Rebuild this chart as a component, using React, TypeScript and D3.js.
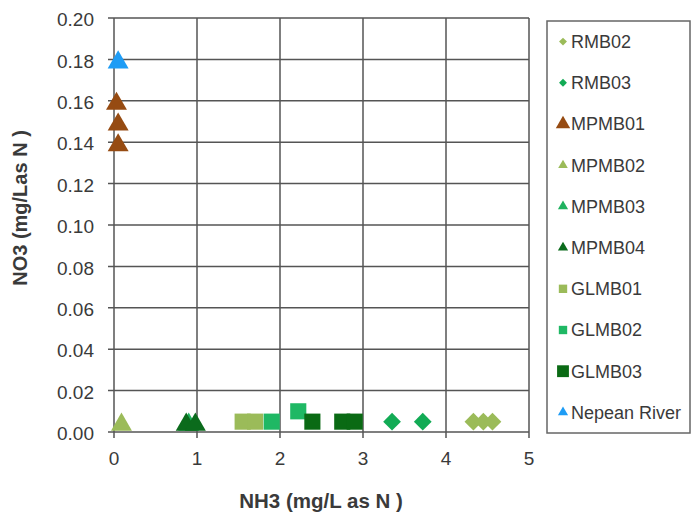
import React from "react";
import * as d3 from "d3";

// Sampling sites, marker shapes and colours
const seriesNames = ["RMB02", "RMB03", "MPMB01", "MPMB02", "MPMB03", "MPMB04", "GLMB01", "GLMB02", "GLMB03", "Nepean River"];
const seriesShapes = ["diamond", "diamond", "triangle", "triangle", "triangle", "triangle", "square", "square", "square", "triangle"];
const seriesColors = ["#9bbb59", "#12ab55", "#964b12", "#9bbb59", "#1fb25f", "#0b6b1c", "#9bbb59", "#1fb864", "#0a6a14", "#1e9cf5"];
// legend keys are drawn smaller, except the two emphasised series
const legendKeySizes = [40, 40, 90, 40, 45, 45, 70, 70, 140, 45];

// NH3 (x) and NO3 (y) readings per site
const rmb02X = [4.33, 4.45, 4.56];
const rmb02Y = [0.005, 0.005, 0.005];
const rmb03X = [3.35, 3.72];
const rmb03Y = [0.005, 0.005];
const mpmb01X = [0.03, 0.05, 0.05];
const mpmb01Y = [0.16, 0.15, 0.14];
const mpmb02X = [0.09];
const mpmb02Y = [0.005];
const mpmb03X = [0.9];
const mpmb03Y = [0.005];
const mpmb04X = [0.87, 0.98];
const mpmb04Y = [0.005, 0.005];
const glmb01X = [1.55, 1.7];
const glmb01Y = [0.005, 0.005];
const glmb02X = [1.9, 2.22];
const glmb02Y = [0.005, 0.01];
const glmb03X = [2.39, 2.75, 2.9];
const glmb03Y = [0.005, 0.005, 0.005];
const nepeanX = [0.05];
const nepeanY = [0.18];

const seriesX = [rmb02X, rmb03X, mpmb01X, mpmb02X, mpmb03X, mpmb04X, glmb01X, glmb02X, glmb03X, nepeanX];
const seriesY = [rmb02Y, rmb03Y, mpmb01Y, mpmb02Y, mpmb03Y, mpmb04Y, glmb01Y, glmb02Y, glmb03Y, nepeanY];

const xTicks = [0, 1, 2, 3, 4, 5];
const yTicks = [0, 0.02, 0.04, 0.06, 0.08, 0.1, 0.12, 0.14, 0.16, 0.18, 0.2];

const W = 692;
const H = 512;
const plot = { left: 114, right: 529, top: 18, bottom: 432 };
const legend = { left: 547, top: 21, right: 690, bottom: 433 };

const FONT = "'Liberation Sans', Arial, sans-serif";
const TEXT = "#3a3a3a";

function markerPath(shape: string, size: number): string {
  const sym =
    shape === "diamond" ? d3.symbolDiamond2 : shape === "square" ? d3.symbolSquare : d3.symbolTriangle;
  return d3.symbol().type(sym).size(size)() as string;
}

// d3 centres triangles on their centroid; shift so the bounding box is centred instead
function triangleShift(size: number): number {
  const side = Math.sqrt((size * 4) / Math.sqrt(3));
  return (side * Math.sqrt(3)) / 2 / 6;
}

export default function App() {
  const x = d3.scaleLinear().domain([0, 5]).range([plot.left, plot.right]);
  const y = d3.scaleLinear().domain([0, 0.2]).range([plot.bottom, plot.top]);
  const gridColor = "#555";
  const markerSize: Record<string, number> = { diamond: 200, square: 260, triangle: 190 };
  const rowStep = (legend.bottom - legend.top) / seriesNames.length;

  return (
    <svg width={W} height={H} style={{ position: "absolute", left: 0, top: 0, background: "#fff" }}>
      {/* grid */}
      {xTicks.map((t) => (
        <line key={"gx" + t} x1={x(t)} x2={x(t)} y1={plot.top} y2={plot.bottom + 6} stroke={gridColor} strokeWidth={1.5} />
      ))}
      {yTicks.map((t) => (
        <line key={"gy" + t} x1={plot.left - 6} x2={plot.right} y1={y(t)} y2={y(t)} stroke={gridColor} strokeWidth={1.5} />
      ))}
      {/* tick labels */}
      {yTicks.map((t) => (
        <text key={"ly" + t} x={94} y={y(t) + 1.5} dy="0.35em" textAnchor="end" fontFamily={FONT} fontSize={19} fill={TEXT}>
          {d3.format(".2f")(t)}
        </text>
      ))}
      {xTicks.map((t) => (
        <text key={"lx" + t} x={x(t)} y={458} dy="0.35em" textAnchor="middle" fontFamily={FONT} fontSize={19} fill={TEXT}>
          {t}
        </text>
      ))}
      {/* axis titles */}
      <text x={321} y={501} dy="0.35em" textAnchor="middle" fontFamily={FONT} fontSize={20.5} fontWeight="bold" fill={TEXT}>
        NH3 (mg/L as N )
      </text>
      <text transform={`translate(20,208) rotate(-90)`} dy="0.35em" textAnchor="middle" fontFamily={FONT} fontSize={20} fontWeight="bold" fill={TEXT}>
        NO3 (mg/Las N )
      </text>
      {/* points */}
      {seriesNames.map((name, i) => {
        const shape = seriesShapes[i];
        const size = markerSize[shape];
        const shift = shape === "triangle" ? triangleShift(size) : 0;
        return (
          <g key={name}>
            {seriesX[i].map((vx, j) => (
              <path
                key={j}
                d={markerPath(shape, size)}
                transform={`translate(${x(vx)},${y(seriesY[i][j]) + shift})`}
                fill={seriesColors[i]}
              />
            ))}
          </g>
        );
      })}
      {/* legend */}
      <rect x={legend.left} y={legend.top} width={legend.right - legend.left} height={legend.bottom - legend.top} fill="#fff" stroke="#666" strokeWidth={1.5} />
      {seriesNames.map((name, i) => {
        const cy = legend.top + rowStep * (i + 0.5);
        return (
          <g key={"lg" + name}>
            <path d={markerPath(seriesShapes[i], legendKeySizes[i])} transform={`translate(563,${cy})`} fill={seriesColors[i]} />
            <text x={571} y={cy} dy="0.35em" fontFamily={FONT} fontSize={18} fill={TEXT}>
              {name}
            </text>
          </g>
        );
      })}
    </svg>
  );
}
